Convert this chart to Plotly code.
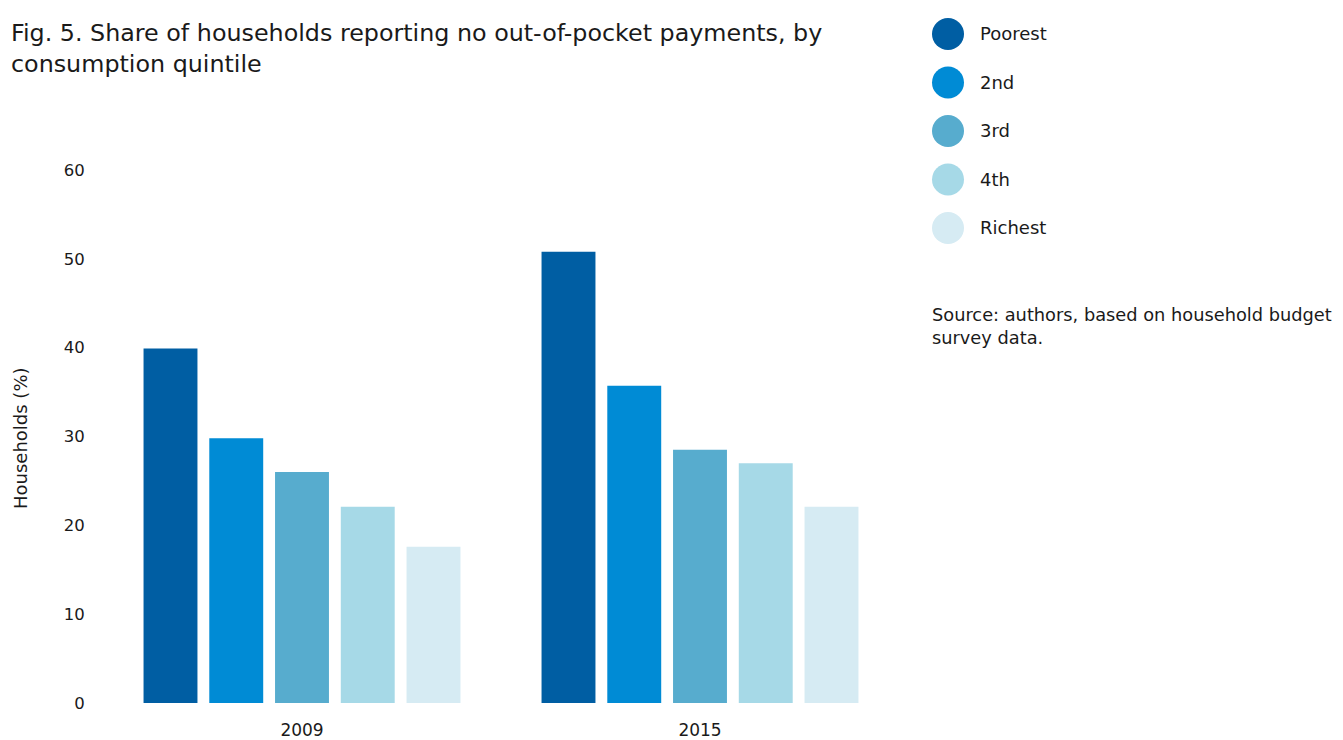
import plotly.graph_objects as go

years = ["2009", "2015"]
quintiles = ["Poorest", "2nd", "3rd", "4th", "Richest"]
values = {
    "Poorest": [39.9, 50.8],
    "2nd": [29.8, 35.7],
    "3rd": [26.0, 28.5],
    "4th": [22.1, 27.0],
    "Richest": [17.6, 22.1],
}
colors = ["#005EA3", "#008BD5", "#57ACCE", "#A6D9E7", "#D6EBF3"]
y_ticks = [0, 10, 20, 30, 40, 50, 60]

FONT = "DejaVu Sans"
OFF = 8  # page body margin
W, H = 1343 - OFF, 740 - OFF
# plot area in reference page pixels
PL, PR, PT, PB = 103, 899, 170, 703
L, T = PL - OFF, PT - OFF
R = W - (PR - OFF)
B = H - (PB - OFF)
PW, PH = PR - PL, PB - PT

def px(x):
    return (x - PL) / PW

def py(y):
    return (PB - y) / PH

fig = go.Figure()
for q, c in zip(quintiles, colors):
    fig.add_trace(go.Bar(x=years, y=values[q], name=q, marker_color=c,
                         marker_line_width=0, showlegend=False))

# custom legend with circles
for i, (q, c) in enumerate(zip(quintiles, colors)):
    cy = 34 + i * 48.5
    fig.add_shape(type="circle", xref="paper", yref="paper",
                  xsizemode="pixel", ysizemode="pixel",
                  xanchor=px(948), yanchor=py(cy),
                  x0=-16, x1=16, y0=-16, y1=16,
                  fillcolor=c, line_width=0)
    fig.add_annotation(text=q, xref="paper", yref="paper", x=px(978), y=py(cy),
                       xanchor="left", yanchor="middle", showarrow=False,
                       font=dict(family=FONT, size=18, color="#1a1a1a"))

fig.add_annotation(text="Source: authors, based on household budget<br>survey data.",
                   xref="paper", yref="paper", x=px(930), y=py(302),
                   xanchor="left", yanchor="top", align="left", showarrow=False,
                   font=dict(family=FONT, size=17.8, color="#1a1a1a"))

fig.add_annotation(text="Fig. 5. Share of households reporting no out-of-pocket payments, by<br>consumption quintile",
                   xref="paper", yref="paper", x=px(9), y=py(17),
                   xanchor="left", yanchor="top", align="left", showarrow=False,
                   font=dict(family=FONT, size=23.8, color="#1a1a1a"))

fig.add_annotation(text="Households (%)", xref="paper", yref="paper",
                   x=px(20), y=py(438), textangle=-90, xanchor="center", yanchor="middle",
                   showarrow=False, font=dict(family=FONT, size=18, color="#1a1a1a"))

fig.update_layout(
    width=W, height=H,
    margin=dict(l=L, r=R, t=T, b=B, autoexpand=False),
    paper_bgcolor="white", plot_bgcolor="white",
    barmode="group", bargap=0.174, bargroupgap=0.18,
    font=dict(family=FONT, size=16, color="#1a1a1a"),
    xaxis=dict(showgrid=False, showline=False, zeroline=False, automargin=False,
               ticks="outside", ticklen=12, tickcolor="rgba(0,0,0,0)",
               tickfont=dict(size=17)),
    yaxis=dict(range=[0, 60], tickvals=y_ticks, showgrid=False, showline=False,
               zeroline=False, automargin=False, ticks="outside", ticklen=14,
               tickcolor="rgba(0,0,0,0)", tickfont=dict(size=16.5)),
)

fig.write_html("out.html")
